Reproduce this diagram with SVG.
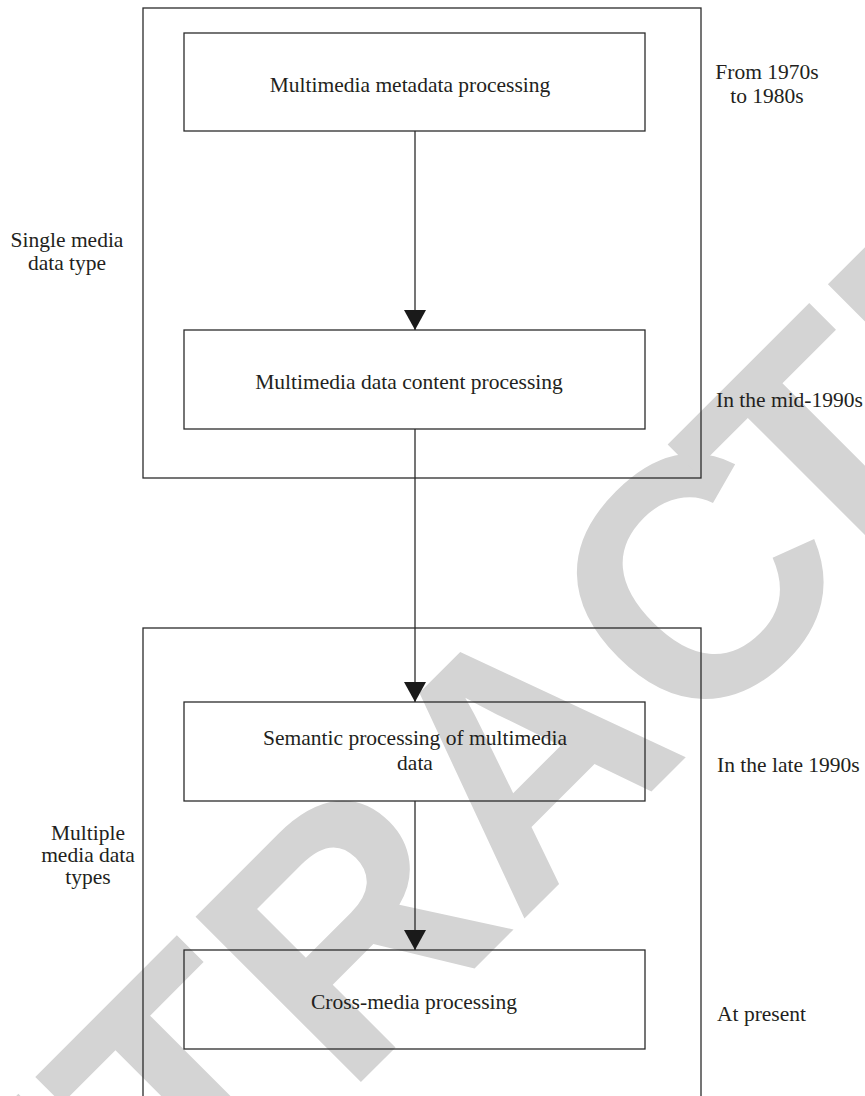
<svg xmlns="http://www.w3.org/2000/svg" width="865" height="1096" viewBox="0 0 865 1096">
<style>
.box{fill:none;stroke:#2b2b2b;stroke-width:1.3}
.t{font-family:"Liberation Serif","Times New Roman",serif;font-size:21.5px;fill:#231f20}
.c{text-anchor:middle}
.edge{stroke:#2b2b2b;stroke-width:1.3;fill:none}
.wm{font-family:"Liberation Sans",Arial,sans-serif;font-weight:bold;font-size:340px;fill:#d4d4d4}
</style>
<defs>
<marker id="ah" markerWidth="20" markerHeight="22" refX="20" refY="11" orient="auto" markerUnits="userSpaceOnUse" viewBox="0 0 20 22">
<path d="M0,0 L20,11 L0,22 Z" fill="#1a1a1a"/>
</marker>
</defs>
<rect width="865" height="1096" fill="#ffffff"/>
<g id="watermark">
<text class="wm" transform="translate(-136,1579) rotate(-45)">RETRAC<tspan dx="-50">T</tspan>ED</text>
</g>
<g id="group-single">
<rect class="box" x="143" y="8" width="558" height="470"/>
<text class="t c" x="67" y="247">Single media</text>
<text class="t c" x="67" y="270">data type</text>
</g>
<g id="group-multiple">
<rect class="box" x="143" y="628" width="558" height="480"/>
<text class="t c" x="88" y="840">Multiple</text>
<text class="t c" x="88" y="862">media data</text>
<text class="t c" x="88" y="884">types</text>
</g>
<g id="node-metadata">
<rect class="box" x="184" y="33" width="461" height="98"/>
<text class="t c" x="410" y="92">Multimedia metadata processing</text>
</g>
<g id="node-content">
<rect class="box" x="184" y="330" width="461" height="99"/>
<text class="t c" x="409" y="389">Multimedia data content processing</text>
</g>
<g id="node-semantic">
<rect class="box" x="184" y="702" width="461" height="99"/>
<text class="t c" x="415" y="745">Semantic processing of multimedia</text>
<text class="t c" x="415" y="770">data</text>
</g>
<g id="node-cross">
<rect class="box" x="184" y="950" width="461" height="99"/>
<text class="t c" x="414" y="1009">Cross-media processing</text>
</g>
<g id="time-labels">
<text class="t c" x="767" y="79">From 1970s</text>
<text class="t c" x="767" y="103">to 1980s</text>
<text class="t" x="716" y="407">In the mid-1990s</text>
<text class="t" x="717" y="772">In the late 1990s</text>
<text class="t" x="717" y="1021">At present</text>
</g>
<g id="connectors">
<line class="edge" x1="415" y1="131" x2="415" y2="330" marker-end="url(#ah)"/>
<line class="edge" x1="415" y1="429" x2="415" y2="702" marker-end="url(#ah)"/>
<line class="edge" x1="415" y1="801" x2="415" y2="950" marker-end="url(#ah)"/>
</g>
</svg>
